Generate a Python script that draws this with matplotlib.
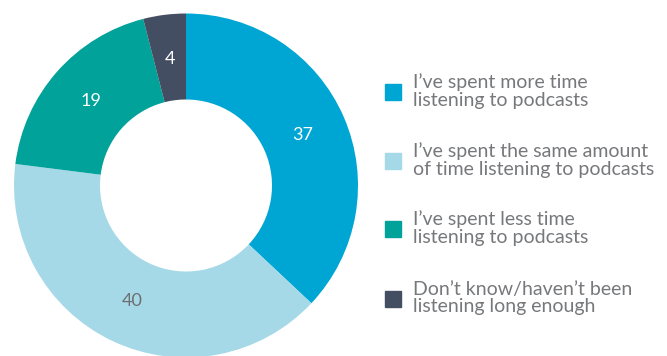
import matplotlib.pyplot as plt
import numpy as np

# Podcast listening survey (percent)
labels = ["I\u2019ve spent more time\nlistening to podcasts",
          "I\u2019ve spent the same amount\nof time listening to podcasts",
          "I\u2019ve spent less time\nlistening to podcasts",
          "Don\u2019t know/haven\u2019t been\nlistening long enough"]
values = [37, 40, 19, 4]
colors = ["#00a6d3", "#a6d9e7", "#00a29a", "#434e62"]
label_colors = ["white", "#6d6e71", "white", "white"]

plt.rcParams['font.family'] = ['Lato', 'DejaVu Sans']

fig = plt.figure(figsize=(6.67, 3.56), dpi=100)

# pie axes placed in pixel terms: centre (186, 170.5 from bottom), radius 172
ax = fig.add_axes([14 / 667, -1.5 / 356, 344 / 667, 344 / 356])
wedges, _ = ax.pie(values, colors=colors, startangle=90, counterclock=False,
                   radius=1.0, wedgeprops=dict(width=0.5, linewidth=0))
ax.set_xlim(-1, 1)
ax.set_ylim(-1, 1)
ax.set_aspect('equal')

# value labels in the middle of each ring segment
total = sum(values)
start = 90.0
for v, c in zip(values, label_colors):
    mid = np.deg2rad(start - v / total * 360 / 2)
    r = 0.74
    ax.text(r * np.cos(mid), r * np.sin(mid), str(v), ha='center', va='center',
            color=c, fontsize=13)
    start -= v / total * 360

# legend drawn in figure pixel coords
leg_y = [92, 161, 229, 299]
for lab, col, y in zip(labels, colors, leg_y):
    yf = (356 - y) / 356
    fig.patches.append(plt.Rectangle((385 / 667, yf - 8 / 356), 16 / 667, 16 / 356,
                                     transform=fig.transFigure, color=col))
    fig.text(413 / 667, yf + 1 / 356, lab, ha='left', va='center', color='#77787b',
             fontsize=14, linespacing=1.02)

fig.savefig("out.png", dpi=100)
